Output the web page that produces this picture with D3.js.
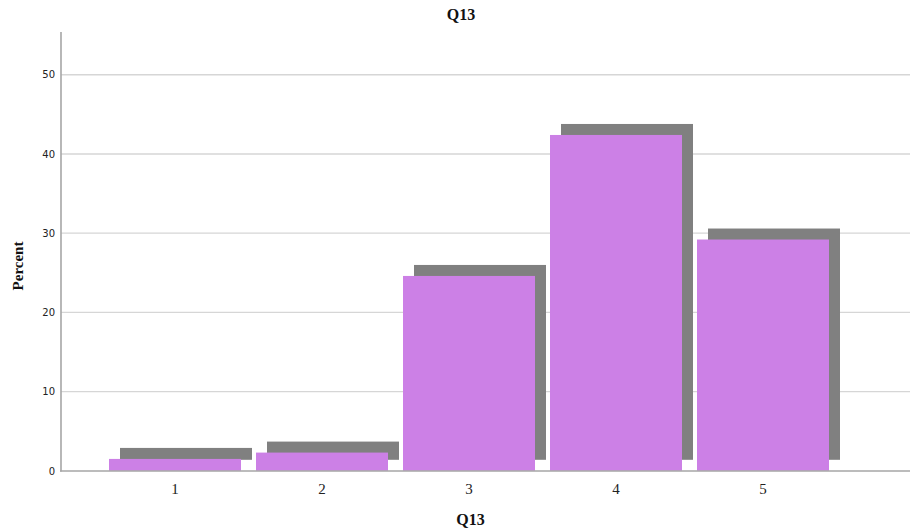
<!DOCTYPE html>
<html><head><meta charset="utf-8">
<script src="https://cdn.jsdelivr.net/npm/d3@7"></script>
<style>body{margin:0;background:#fff}svg{display:block}</style>
</head><body>
<script>
const categories = ["1","2","3","4","5"];
const percents = [1.5, 2.3, 24.6, 42.4, 29.2];
const yTicks = [0,10,20,30,40,50];
const title = "Q13";
const xTitle = "Q13";
const yTitle = "Percent";

const W = 910, H = 531;
const svg = d3.select("body").append("svg").attr("width",W).attr("height",H);

const x = d3.scaleBand().domain(categories).range([101.5, 836.5]).paddingInner(0.102).paddingOuter(0.051);
const y = d3.scaleLinear().domain([0, 55.4]).range([470.8, 32]);
const off = 11;

// gridlines
svg.append("g").selectAll("line").data(yTicks.filter(d=>d>0)).join("line")
  .attr("x1",61).attr("x2",W).attr("y1",d=>y(d)).attr("y2",d=>y(d))
  .attr("stroke","#d6d6d6").attr("stroke-width",1.3);

// shadows
svg.append("g").selectAll("rect").data(percents).join("rect")
  .attr("x",(d,i)=>x(categories[i])+off).attr("width",x.bandwidth())
  .attr("y",d=>y(d)-off).attr("height",d=>y(0)-y(d))
  .attr("fill","#808080");

// bars
svg.append("g").selectAll("rect").data(percents).join("rect")
  .attr("x",(d,i)=>x(categories[i])).attr("width",x.bandwidth())
  .attr("y",d=>y(d)).attr("height",d=>y(0)-y(d))
  .attr("fill","#cc80e6");

// y axis
const ya = svg.append("g").attr("transform","translate(61,0)")
  .call(d3.axisLeft(y).tickValues(yTicks).tickSize(0).tickPadding(6));
ya.select(".domain").remove();
ya.selectAll("text").attr("font-family","DejaVu Sans, sans-serif").attr("font-size",10).attr("fill","#222");
svg.append("line").attr("x1",61).attr("x2",61).attr("y1",32).attr("y2",471.5).attr("stroke","#a6a6a6").attr("stroke-width",1.6);

// x axis
const xa = svg.append("g").attr("transform","translate(0,471)")
  .call(d3.axisBottom(x).tickSize(0).tickPadding(12));
xa.select(".domain").remove();
xa.selectAll("text").attr("font-family","Liberation Serif, serif").attr("font-size",15).attr("fill","#222");
svg.append("line").attr("x1",60).attr("x2",W).attr("y1",471).attr("y2",471).attr("stroke","#a6a6a6").attr("stroke-width",1.6);

// titles
svg.append("text").attr("x",461).attr("y",20).attr("text-anchor","middle")
  .attr("font-family","Liberation Serif, serif").attr("font-weight","bold").attr("font-size",16).attr("fill","#111").text(title);
svg.append("text").attr("x",470.5).attr("y",525).attr("text-anchor","middle")
  .attr("font-family","Liberation Serif, serif").attr("font-weight","bold").attr("font-size",16).attr("fill","#111").text(xTitle);
svg.append("text").attr("transform","translate(23,266) rotate(-90)").attr("text-anchor","middle")
  .attr("font-family","Liberation Serif, serif").attr("font-weight","bold").attr("font-size",15).attr("fill","#111").text(yTitle);
</script>
</body></html>
